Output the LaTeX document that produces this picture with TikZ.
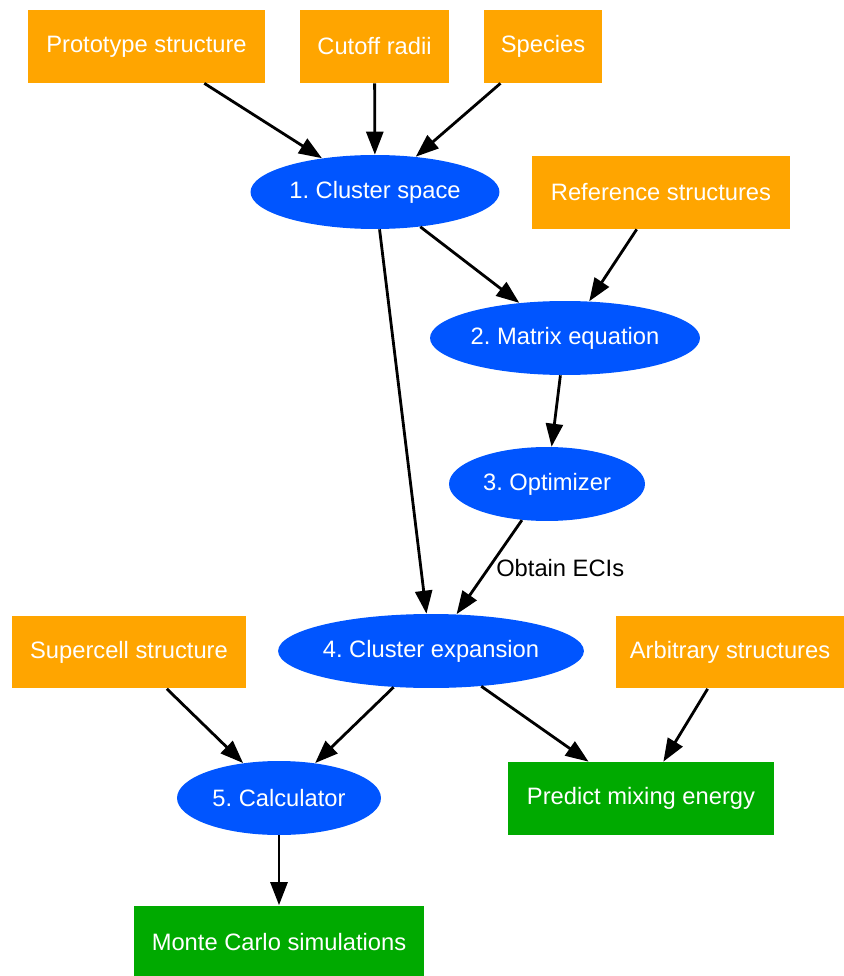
\documentclass[tikz,border=0pt]{standalone}
\usepackage{fontspec}
\setmainfont{Liberation Sans}
\usetikzlibrary{shapes.geometric,arrows.meta}

\definecolor{inputcol}{HTML}{FFA500}
\definecolor{stepcol}{HTML}{0055FF}
\definecolor{outputcol}{HTML}{00AA00}

\tikzset{
	inbox/.style={rectangle, fill=inputcol, text=white, inner sep=0pt, minimum height=1.46cm},
	stepnode/.style={ellipse, fill=stepcol, text=white, inner sep=0pt, minimum height=1.48cm},
	outbox/.style={rectangle, fill=outputcol, text=white, inner sep=0pt, minimum height=1.46cm},
	flow/.style={-{Triangle[length=0.46cm, width=0.34cm]}, line width=1.6pt}
}

\begin{document}
\frenchspacing
\begin{tikzpicture}[x=0.02cm, y=-0.02cm, font=\fontsize{13.5}{16}\selectfont]
		\useasboundingbox (0, 0) rectangle (844, 976);

		% inputs
		\node[inbox, minimum width=4.74cm] (proto) at (146.5, 46.5) {Prototype structure};
		\node[inbox, minimum width=2.98cm] (cutoff) at (374.5, 46.5) {Cutoff radii};
		\node[inbox, minimum width=2.36cm] (species) at (543, 46.5) {Species};
		\node[inbox, minimum width=5.16cm] (refs) at (661, 192.5) {Reference structures};
		\node[inbox, minimum width=4.68cm] (supercell) at (129, 652) {Supercell structure};
		\node[inbox, minimum width=4.56cm] (arbitrary) at (730, 652) {Arbitrary structures};

		% steps
		\node[stepnode, minimum width=4.98cm] (cs) at (375, 192) {1. Cluster space};
		\node[stepnode, minimum width=5.40cm] (matrix) at (565, 338) {2. Matrix equation};
		\node[stepnode, minimum width=3.92cm] (opt) at (547, 484) {3. Optimizer};
		\node[stepnode, minimum width=6.08cm] (ce) at (431, 651) {4. Cluster expansion};
		\node[stepnode, minimum width=4.08cm] (calc) at (279, 798) {5. Calculator};

		% outputs
		\node[outbox, minimum width=5.32cm] (predict) at (641, 798.5) {Predict mixing energy};
		\node[outbox, minimum width=5.80cm] (mc) at (279, 942) {Monte Carlo simulations};

		\foreach \src in {proto, cutoff, species} {
			\draw[flow] (\src) -- (cs);
		}
		\draw[flow] (cs) -- (matrix);
		\draw[flow] (refs) -- (matrix);
		\draw[flow] (matrix) -- (opt);
		\draw[flow] (cs) -- (ce);
		\draw[flow] (opt) -- node[right, pos=0.45, xshift=-2pt, yshift=-3pt] {Obtain ECIs} (ce);
		\draw[flow] (supercell) -- (calc);
		\draw[flow] (ce) -- (calc);
		\draw[flow] (ce) -- (predict);
		\draw[flow] (arbitrary) -- (predict);
		\draw[flow] (calc) -- (mc);
	\end{tikzpicture}
\end{document}
